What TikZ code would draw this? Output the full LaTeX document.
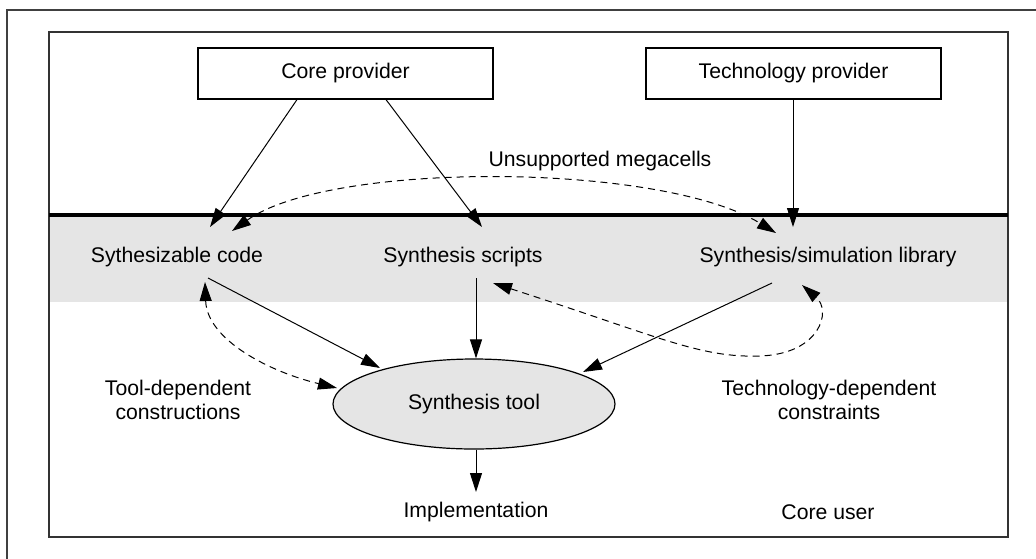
\documentclass[tikz,border=0pt]{standalone}
\usepackage{fontspec}
\setmainfont{Liberation Sans}
\usetikzlibrary{arrows.meta,shapes.geometric}
\begin{document}
\begin{tikzpicture}[x=1pt,y=-1pt,
  txt/.style={font=\fontsize{21.2}{24}\selectfont, inner sep=0pt, align=center},
  provbox/.style={txt, draw, line width=1.2pt, minimum width=295pt, minimum height=51pt},
  tip/.tip={Triangle[length=19pt,width=12pt]},
  arr/.style={line width=1pt, -tip},
  darr/.style={line width=1pt, dash pattern=on 7pt off 5pt, tip-tip},
]
\useasboundingbox (0,0) rectangle (1036,558);

% outer frame (runs past the right and bottom edges)
\draw[line width=1.5pt, draw=black!75] (7,10) rectangle (1050,575);

% shaded hand-off band and inner frame
\fill[black!10] (49,215) rectangle (1008,302);
\draw[line width=1.5pt, draw=black!80] (49,32) rectangle (1008,537);
\draw[line width=3.5pt] (49,215) -- (1008,215);

% providers
\node[provbox] (core) at (345.5,73.5) {Core provider};
\node[provbox] (tech) at (793.5,73.5) {Technology provider};

% deliverables
\node[txt] (code)    at (177,257) {Sythesizable code};
\node[txt] (scripts) at (463,257) {Synthesis scripts};
\node[txt] (lib)     at (828,257) {Synthesis/simulation library};
\node[txt] (mega)    at (600,161) {Unsupported megacells};

% synthesis tool and result
\node[txt, ellipse, draw, fill=black!10, line width=1.2pt,
      minimum width=282pt, minimum height=90pt] (tool) at (474,404) {Synthesis tool};
\node[txt] (impl) at (476,512) {Implementation};
\node[txt] (user) at (828,512) {Core user};

% side labels
\node[txt] (tooldep) at (178,400) {Tool-dependent\\constructions};
\node[txt] (techdep) at (829,400) {Technology-dependent\\constraints};

% provider deliveries
\draw[arr] ([shift={(-48.5,0)}]core.south) -- ([shift={(33,-30)}]code.center);
\draw[arr] ([shift={(40.5,0)}]core.south)  -- ([shift={(19,-30)}]scripts.center);
\draw[arr] ([shift={(-0.5,0)}]tech.south)  -- ([shift={(-35,-30)}]lib.center);

% inputs to the tool
\draw[arr] ([shift={(31,21)}]code.center)    -- ([shift={(-94,-36)}]tool.center);
\draw[arr] ([shift={(13,21)}]scripts.center) -- ([shift={(2,0)}]tool.north);
\draw[arr] ([shift={(-56,26)}]lib.center)    -- ([shift={(109,-32)}]tool.center);
\draw[arr] ([shift={(2,0)}]tool.south)       -- ([shift={(0,-20)}]impl.center);

% dashed dependencies
\draw[darr] ([shift={(55,-26)}]code.center)
  .. controls (330,161) and (660,162) .. ([shift={(-52,-24)}]lib.center);
\draw[darr] ([shift={(28,25)}]code.center)
  .. controls (207,340) and (270,372) .. ([shift={(-137,-16)}]tool.center);
\draw[darr] ([shift={(30,26)}]scripts.center)
  .. controls (660,337) and (700,358) .. (760,356)
  .. controls (820,354) and (832,311) .. ([shift={(-26,28)}]lib.center);
\end{tikzpicture}
\end{document}
